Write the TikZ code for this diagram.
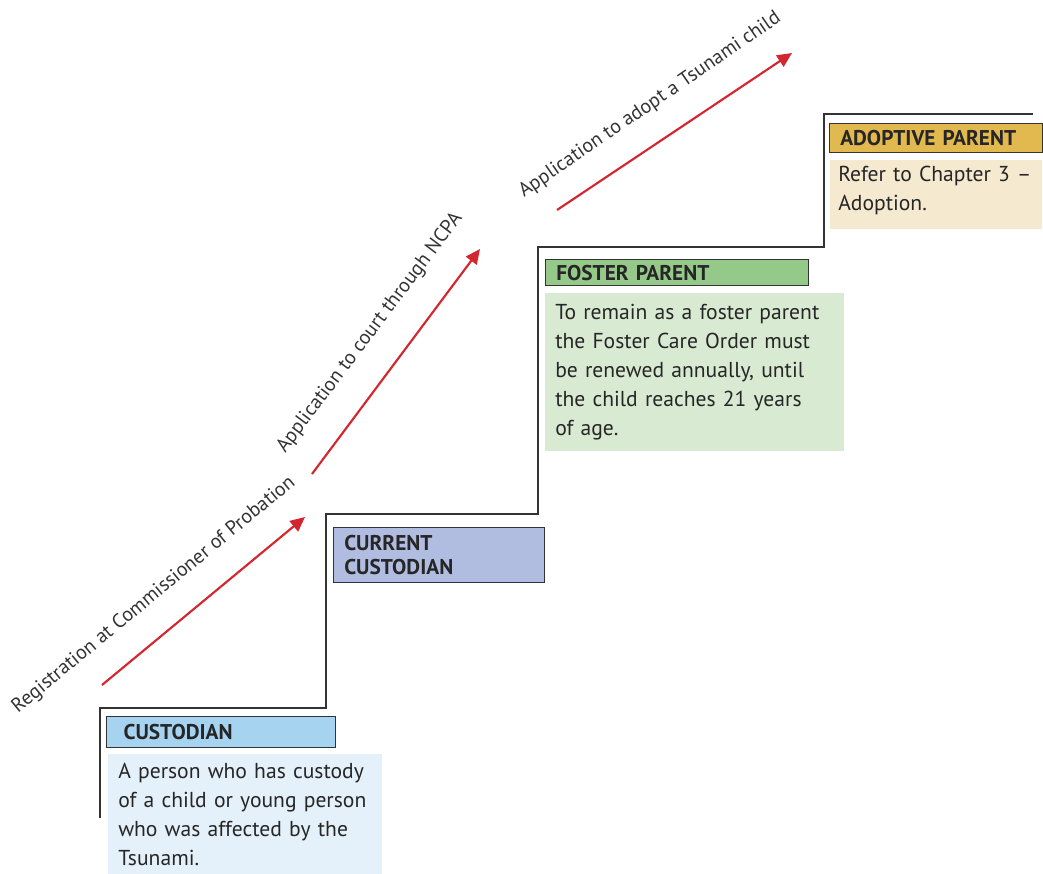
\documentclass[tikz,border=0pt]{standalone}
\usepackage{fontspec}
\setmainfont{PT Sans}
\usetikzlibrary{arrows.meta}
\definecolor{stepred}{HTML}{D3262F}
\definecolor{custhead}{HTML}{A6D3F0}
\definecolor{custbody}{HTML}{E4F1FA}
\definecolor{currhead}{HTML}{B1BDE0}
\definecolor{fosthead}{HTML}{95C98A}
\definecolor{fostbody}{HTML}{D9EAD3}
\definecolor{adophead}{HTML}{E2B94F}
\definecolor{adopbody}{HTML}{F5E9CF}

\begin{document}
\begin{tikzpicture}[x=0.75pt,y=-0.75pt,
   head/.style={draw=black!80, line width=0.9pt, anchor=north west, align=left,
      inner xsep=8pt, inner ysep=0pt, text=black!85,
      font=\fontsize{16}{18}\selectfont\bfseries},
   body/.style={anchor=north west, align=left, inner xsep=7.5pt, inner ysep=0pt,
      text=black!85, font=\fontsize{16.2}{21.75}\selectfont},
   lbl/.style={text=black!80, font=\fontsize{15}{18}\selectfont},
   redarrow/.style={draw=stepred, line width=1.6pt,
      -{Triangle[length=11pt,width=10pt]}}]%
   \useasboundingbox (0,0) rectangle (1043,874);
   % the steps
   \draw[black!80, line width=1pt] (100,818) -- (100,708) -- (326,708) -- (326,514)
      -- (538,514) -- (538,247) -- (824,247) -- (824,114) -- (1033,114);
   % custodian
   \node[head, fill=custhead, inner xsep=12.75pt, text width=146.25pt,
      minimum height=23.25pt] (custHead) at (106,716) {CUSTODIAN};
   \node[body, fill=custbody, text width=190.5pt, minimum height=90pt]
      (custText) at (108,754) {A person who has custody\\of a child or young person\\who was affected by the\\Tsunami.};
   % current custodian
   \node[head, fill=currhead, text width=142.25pt, minimum height=41.25pt]
      (currHead) at (333,527) {CURRENT\\CUSTODIAN};
   % foster parent
   \node[head, fill=fosthead, text width=181.25pt, minimum height=19.5pt]
      (fostHead) at (545,259) {FOSTER~PARENT};
   \node[body, fill=fostbody, text width=209.25pt, minimum height=118.5pt]
      (fostText) at (545,293) {To remain as a foster parent\\the Foster Care Order must\\be renewed annually, until\\the child reaches 21 years\\of age.};
   % adoptive parent
   \node[head, fill=adophead, text width=143.75pt, minimum height=21.75pt]
      (adopHead) at (829,123) {ADOPTIVE~PARENT};
   \node[body, fill=adopbody, inner xsep=6pt, text width=147pt, minimum height=51.75pt]
      (adopText) at (830,160) {Refer~to~Chapter~3~--\\Adoption.\\[-12pt]\mbox{}};
   % the routes up
   \coordinate (regStart) at (102,685);
   \coordinate (regEnd) at (305,517);
   \coordinate (courtStart) at (312,474);
   \coordinate (courtEnd) at (480,249);
   \coordinate (adoptStart) at (557,210);
   \coordinate (adoptEnd) at (792,53);
   \draw[redarrow] (regStart) -- (regEnd);
   \draw[redarrow] (courtStart) -- (courtEnd);
   \draw[redarrow] (adoptStart) -- (adoptEnd);
   \node[lbl, rotate=39.5] (regLbl) at (154,595) {Registration at Commissioner of Probation};
   \node[lbl, rotate=53] (courtLbl) at (370,333) {Application to court through NCPA};
   \node[lbl, rotate=34.5] (adoptLbl) at (650,105) {Application to adopt a Tsunami child};
\end{tikzpicture}
\end{document}
